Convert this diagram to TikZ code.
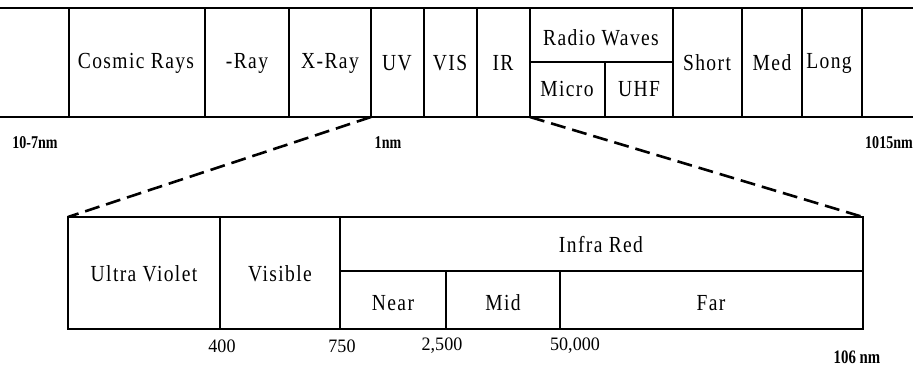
\documentclass[tikz,border=0pt]{standalone}
\usepackage{fontspec}
\setmainfont{Liberation Serif}[FakeStretch=0.85,LetterSpace=6]
\newfontfamily\numfont{Liberation Serif}[FakeStretch=0.95]
\newfontfamily\tickfont{Liberation Serif}[FakeStretch=0.78]

\begin{document}
\begin{tikzpicture}[x=1pt,y=-1pt,
		band/.style={line width=2.6pt},
		zoomline/.style={line width=2.6pt,dash pattern=on 15pt off 7pt},
		lbl/.style={inner sep=0pt,font=\fontsize{23}{25}\selectfont},
		num/.style={inner sep=0pt,font=\numfont\fontsize{19}{21}\selectfont},
		tick/.style={inner sep=0pt,font=\tickfont\bfseries\fontsize{18}{20}\selectfont}]
			%%%%% START %%%%%
			\useasboundingbox (0,0) rectangle (913,369);
			
			% whole spectrum
			\draw[band] (0,8) -- (913,8);
			\draw[band] (0,117) -- (913,117);
			\foreach \x in {69,205,289,371,424,477,530,673,742,802,862}
				\draw[band] (\x,8) -- (\x,117);
			\draw[band] (530,62) -- (673,62);
			\draw[band] (605,62) -- (605,117);
			
			\node[lbl] (cosmic) at (136,63) {Cosmic Rays};
			\node[lbl] (gamma) at (247,63) {-Ray};
			\node[lbl] (xray) at (330,63) {X-Ray};
			\node[lbl] (uv) at (397,63) {UV};
			\node[lbl] (vis) at (450,63) {VIS};
			\node[lbl] (ir) at (503,63) {IR};
			\node[lbl] (radio) at (601,38) {Radio Waves};
			\node[lbl] (micro) at (567,89) {Micro};
			\node[lbl] (uhf) at (639,89) {UHF};
			\node[lbl] (short) at (707,63) {Short};
			\node[lbl] (med) at (772,63) {Med};
			\node[lbl] (long) at (829,63) {Long};
			
			\node[tick] (lowend) at (35,143) {10-7nm};
			\node[tick] (onenm) at (388,143) {1nm};
			\node[tick] (highend) at (889,143) {1015nm};
			
			% zoomed part
			\coordinate (uvfoot) at (371,117);
			\coordinate (irfoot) at (530,117);
			\coordinate (zoomL) at (68,217);
			\coordinate (zoomR) at (863,217);
			\draw[zoomline] (uvfoot) -- (zoomL);
			\draw[zoomline] (irfoot) -- (zoomR);
			
			\draw[band] (zoomL) rectangle (863,329);
			\draw[band] (220,217) -- (220,329);
			\draw[band] (340,217) -- (340,329);
			\draw[band] (340,271) -- (863,271);
			\draw[band] (446,271) -- (446,329);
			\draw[band] (560,271) -- (560,329);
			
			\node[lbl] (ultra) at (144,274) {Ultra Violet};
			\node[lbl] (visible) at (280,274) {Visible};
			\node[lbl] (infra) at (601,245) {Infra Red};
			\node[lbl] (near) at (393,303) {Near};
			\node[lbl] (mid) at (503,303) {Mid};
			\node[lbl] (far) at (711,303) {Far};
			
			\node[num] (n400) at (222,346) {400};
			\node[num] (n750) at (342,346) {750};
			\node[num] (n2500) at (442,346) {2,500};
			\node[num] (n50000) at (575,346) {50,000};
			\node[tick,font=\tickfont\bfseries\fontsize{19}{21}\selectfont] (n106) at (857,357) {106 nm};
			
			%%%%% END %%%%%
		\end{tikzpicture}
\end{document}
